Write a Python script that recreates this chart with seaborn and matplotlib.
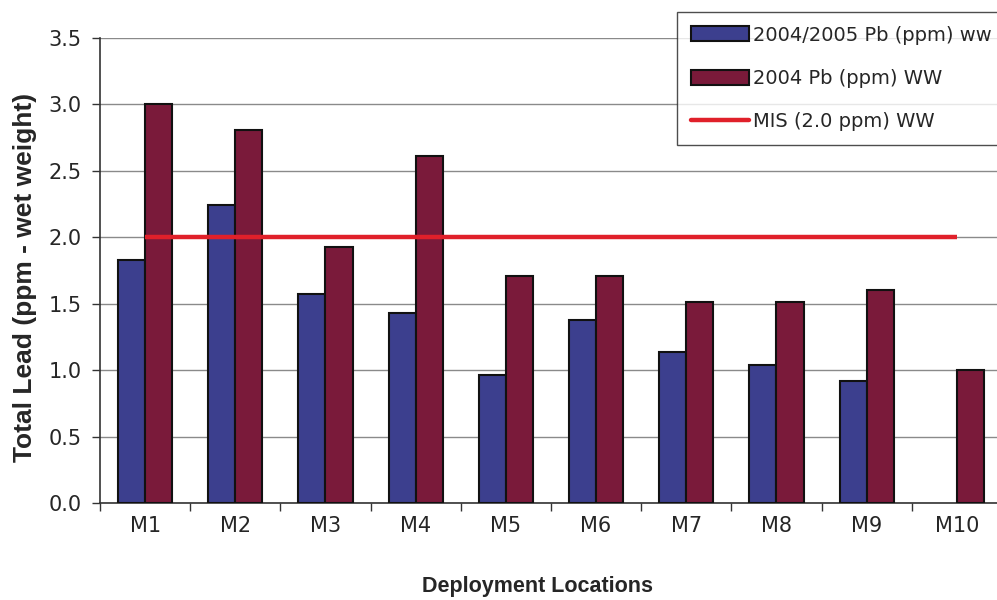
import numpy as np
import pandas as pd
import matplotlib
matplotlib.use("Agg")
import matplotlib.pyplot as plt
import seaborn as sns
from matplotlib.patches import Patch
from matplotlib.lines import Line2D

categories = ["M1", "M2", "M3", "M4", "M5", "M6", "M7", "M8", "M9", "M10"]
pb_2004_2005 = [1.83, 2.24, 1.57, 1.43, 0.96, 1.38, 1.14, 1.04, 0.92, np.nan]
pb_2004 = [3.00, 2.81, 1.93, 2.61, 1.71, 1.71, 1.51, 1.51, 1.60, 1.00]
mis_level = 2.0
series_names = ["2004/2005 Pb (ppm) ww", "2004 Pb (ppm) WW", "MIS (2.0 ppm) WW"]
y_ticks = [0.0, 0.5, 1.0, 1.5, 2.0, 2.5, 3.0, 3.5]

sns.set_theme(style="white")
plt.rcParams["font.family"] = ["DejaVu Sans"]

df = pd.DataFrame({
    "loc": categories * 2,
    "val": pb_2004_2005 + pb_2004,
    "series": [series_names[0]] * len(categories) + [series_names[1]] * len(categories),
})

blue = "#3C3F8E"
maroon = "#7A1A3A"
red = "#E0202A"

fig = plt.figure(figsize=(9.97, 6.0), dpi=100)
ax = fig.add_axes([100 / 997, 1 - 503 / 600, 1.005 - 100 / 997, (503 - 38) / 600])

sns.barplot(data=df, x="loc", y="val", hue="series", order=categories,
            hue_order=series_names[:2], palette=[blue, maroon],
            width=0.6, gap=0, edgecolor="#111111", linewidth=1.5,
            saturation=1, errorbar=None, ax=ax, legend=False, zorder=3)

xpos = np.arange(len(categories))
ax.plot(xpos, [mis_level] * len(categories), color=red, lw=3.2, zorder=4,
        solid_capstyle="butt")

ax.set_ylim(0, 3.5)
ax.set_xlim(-0.5, len(categories) - 0.5)
ax.set_yticks(y_ticks)
ax.set_yticklabels([f"{v:.1f}" for v in y_ticks], fontsize=15, family="DejaVu Sans")
ax.yaxis.grid(True, color="#8a8a8a", lw=1.0, zorder=0)
ax.set_axisbelow(True)
ax.set_xticks(xpos)
ax.set_xticklabels(categories, fontsize=15, family="DejaVu Sans")
ax.set_xticks(np.arange(len(categories) + 1) - 0.5, minor=True)
ax.tick_params(axis="x", which="major", length=0, pad=9)
ax.tick_params(axis="x", which="minor", length=6, width=1, color="#333333", direction="out", bottom=True)
ax.tick_params(axis="y", which="major", length=6, width=1, color="#333333", direction="out", left=True, pad=7)

for s in ["top", "right"]:
    ax.spines[s].set_visible(False)
for s in ["left", "bottom"]:
    ax.spines[s].set_color("#333333")
    ax.spines[s].set_linewidth(1.2)

ax.set_xlabel("Deployment Locations", fontsize=15.5, fontweight="bold", family="Liberation Sans")
ax.set_ylabel("Total Lead (ppm - wet weight)", fontsize=19, fontweight="bold", family="Liberation Sans")
ax.xaxis.set_label_coords((538 - 100) / 902, (503 - 576) / 465)
ax.yaxis.set_label_coords((37 - 100) / 902, 0.485)

handles = [
    Patch(facecolor=blue, edgecolor="#111111", lw=1.5),
    Patch(facecolor=maroon, edgecolor="#111111", lw=1.5),
    Line2D([0], [0], color=red, lw=3.2),
]
leg = fig.legend(handles, series_names, loc="upper left",
                 bbox_to_anchor=(677 / 997, 1 - 12 / 600), frameon=True,
                 prop={"family": "DejaVu Sans", "size": 14},
                 handlelength=3.0, handleheight=0.82,
                 handletextpad=0.2, labelspacing=1.25, borderpad=0.7,
                 fancybox=False, borderaxespad=0)
leg.get_frame().set_edgecolor("#222222")
leg.get_frame().set_linewidth(1.0)

fig.savefig("out.png", dpi=100)
